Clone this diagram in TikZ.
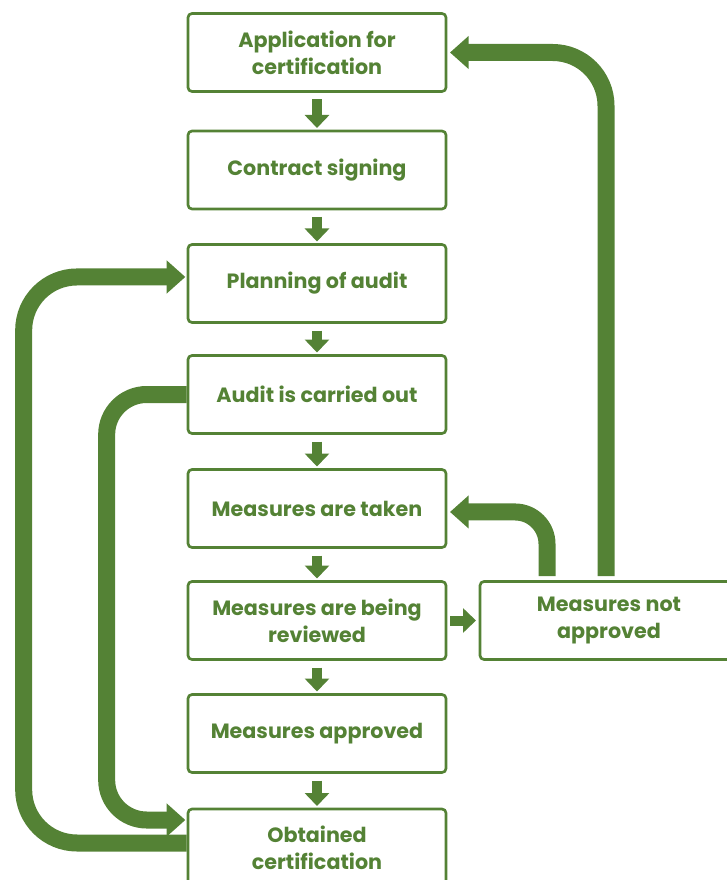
\documentclass[tikz,border=0pt]{standalone}
\usepackage{fontspec}
\setmainfont{Poppins}
\usetikzlibrary{arrows.meta}
\definecolor{leaf}{RGB}{84,130,53}
\tikzset{every picture/.style={line width=0.75pt}}

\begin{document}
\begin{tikzpicture}[x=0.75pt,y=0.75pt,yscale=-1,xscale=1,
	stepbox/.style={draw=leaf, line width=2pt, rounded corners=3pt, text=leaf, font=\fontsize{15.5}{20.5}\selectfont\bfseries, align=center, minimum width=193.5pt, minimum height=58.5pt, inner sep=0pt},
	smallarrow/.style={leaf, line width=7.5pt, -{Triangle[width=18pt,length=9.75pt]}},
	backarrow/.style={leaf, line width=12.75pt, -{Triangle[width=24pt,length=14pt]}}]
	\useasboundingbox (0,0) rectangle (726,880);
	
	% Boxes
	\node[stepbox] (app) at (317,52.5) {Application for\\certification};
	\node[stepbox] (sign) at (317,170) {Contract signing};
	\node[stepbox] (plan) at (317,283.5) {Planning of audit};
	\node[stepbox] (audit) at (317,394.5) {Audit is carried out};
	\node[stepbox] (taken) at (317,508.5) {Measures are taken};
	\node[stepbox] (review) at (317,620.5) {Measures are being\\reviewed};
	\node[stepbox] (approved) at (317,733.5) {Measures approved};
	\node[stepbox] (obtained) at (317,848) {Obtained\\certification};
	\node[stepbox] (notok) at (609,620.5) {Measures not\\approved};
	
	% Small arrows down the chain
	\foreach \a/\b in {app/sign, sign/plan, plan/audit, audit/taken, taken/review, review/approved, approved/obtained}
		\draw[smallarrow, shorten <=5pt, shorten >=1.25pt] (\a.south) -- (\b.north);
	\draw[smallarrow, shorten <=2pt, shorten >=2pt] (review.east) -- (notok.west);
	
	% Back arrows
	\draw[backarrow, rounded corners=40pt, shorten >=1pt] ([yshift=-3.75pt]obtained.west) -- ++(-163,0) |- ([yshift=-4.9pt]plan.west);
	\draw[backarrow, rounded corners=30pt, shorten >=1pt] (audit.west) -- ++(-80,0) |- ([yshift=-21pt]obtained.west);
	\draw[backarrow, rounded corners=40pt, shorten <=3pt, shorten >=2pt] ([xshift=-2.25pt]notok.north) |- (app.east);
	\draw[backarrow, rounded corners=24pt, shorten <=3pt, shorten >=2pt] ([xshift=-46.5pt]notok.north) |- ([yshift=2.6pt]taken.east);
	
\end{tikzpicture}
\end{document}
